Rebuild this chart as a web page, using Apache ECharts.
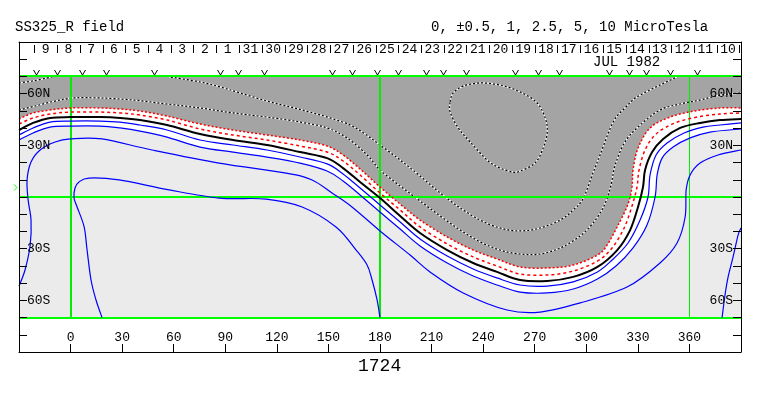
<!DOCTYPE html>
<html><head><meta charset="utf-8">
<script src="https://cdn.jsdelivr.net/npm/echarts@6/dist/echarts.min.js"></script>
<style>html,body{margin:0;padding:0;background:#fff}#c{width:763px;height:396px}</style>
</head><body><div id="c"></div><script>
// ---------- data (lon, lat) ----------
const titleLeft = 'SS325_R field';
const titleRight = '0, \u00b10.5, 1, 2.5, 5, 10 MicroTesla';
const rotationLabel = '1724';
const monthLabel = 'JUL 1982';
const latLabels = {'60':'60N','30':'30N','-30':'30S','-60':'60S'};
const earthLat = 6;
const greenMeridians = [0, 180, 360];
const greenParallels = [70, 0, -70];
const dayTickLon = [-21.1,-7.8,5.4,18.6,31.8,45.1,58.3,71.5,84.8,98.0,111.2,124.5,137.7,150.9,164.2,177.4,190.6,203.8,217.1,230.3,243.5,256.8,270.0,283.2,296.5,309.7,322.9,336.2,349.4,362.6,375.9,389.1];
const dayLabels = ['9','8','7','6','5','4','3','2','1','31','30','29','28','27','26','25','24','23','22','21','20','19','18','17','16','15','14','13','12','11','10'];
const obsLon = [-20.1,-7.9,6.7,20.7,48.6,87.0,97.4,112.6,152.1,163.7,178.3,190.5,206.8,216.8,230.1,258.6,272.0,284.2,313.3,324.9,334.8,348.8,364.4];

const neutralLine = [[-30,38.9],[-21.8,43.0],[-11.9,45.9],[0,46.4],[17.2,46.4],[28.8,45.9],[40.4,44.7],[56.1,41.8],[75.3,36.6],[94.5,33.1],[114.3,30.2],[133.5,26.1],[149.2,22.6],[158.5,16.8],[168.4,8.7],[180,-0.6],[191.7,-11.0],[203.3,-20.9],[219.1,-30.8],[234.2,-38.3],[248.1,-43.5],[261.5,-48.2],[277.3,-48.8],[292.4,-46.4],[306.5,-40.6],[318,-30.8],[325.5,-19.2],[330.1,-5.8],[333.0,5.8],[334.2,15.7],[338.3,26.1],[344.7,33.7],[354.6,40.1],[366.2,43.0],[377.8,44.7],[390,45.3]];
const negHalf = [[-30,42.4],[-21.8,45.9],[-11.9,48.2],[0,49.3],[17.2,49.3],[28.8,48.8],[40.4,47.6],[56.1,44.7],[75.3,39.5],[94.5,36.0],[114.3,33.1],[133.5,29.6],[149.2,26.1],[158.5,20.9],[168.4,12.8],[180,2.3],[191.7,-7.5],[203.3,-17.4],[219.1,-27.3],[234.2,-34.8],[248.1,-40.1],[261.5,-44.7],[277.3,-45.3],[292.4,-43.0],[306.5,-37.2],[315,-29.6],[322,-18.0],[326.6,-5.2],[329.5,5.8],[330.7,15.7],[334.2,27.3],[340.6,36.6],[351.6,43.0],[364.4,46.4],[377.8,48.2],[390,48.8]];
const negOne = [[-30,45.3],[-21.8,48.8],[-11.9,50.5],[0,51.7],[17.2,51.7],[28.8,51.1],[40.4,49.9],[56.1,47.0],[75.3,42.4],[94.5,38.9],[114.3,36.0],[133.5,33.1],[149.2,29.6],[158.5,24.4],[168.4,16.3],[180,5.8],[191.7,-4.1],[203.3,-13.4],[219.1,-23.2],[234.2,-30.8],[248.1,-36.0],[261.5,-40.6],[277.3,-41.2],[292.4,-39.5],[306.5,-33.7],[312.1,-27.9],[318.5,-16.3],[324.3,-4.1],[326.6,5.8],[327.2,15.7],[330.1,28.4],[337.1,40.1],[348.8,46.4],[362.7,49.9],[377.8,51.7],[390,51.7]];
const posHalf = [[-30,36.0],[-21.8,40.1],[-11.9,43.5],[0,44.1],[17.2,44.1],[28.8,43.5],[40.4,41.8],[56.1,38.9],[75.3,33.1],[94.5,30.2],[114.3,27.3],[133.5,23.2],[149.2,19.2],[158.5,13.4],[168.4,5.2],[180,-4.6],[191.7,-14.5],[203.3,-24.4],[219.1,-34.3],[234.2,-41.8],[248.1,-47.0],[261.5,-51.1],[277.3,-51.7],[292.4,-49.3],[306.5,-43.5],[315,-36.6],[324.3,-26.7],[331.3,-13.4],[335.9,0],[337.1,12.8],[340.6,24.4],[347,31.4],[356.9,37.2],[367.9,40.6],[377.8,41.8],[390,43.0]];
const posOne = [[-30,33.1],[-21.8,37.2],[-11.9,40.6],[0,41.2],[17.2,41.2],[28.8,40.1],[40.4,38.3],[56.1,34.8],[75.3,29.0],[94.5,26.1],[114.3,23.2],[133.5,19.7],[149.2,15.1],[158.5,9.3],[168.4,1.2],[180,-8.7],[191.7,-18.6],[203.3,-28.4],[219.1,-38.3],[234.2,-45.9],[248.1,-51.1],[261.5,-55.2],[277.3,-55.7],[292.4,-53.4],[306.5,-47.6],[317.3,-40.1],[327.2,-29.6],[335.3,-16.3],[340,0],[341.2,12.8],[344.1,22.6],[350.5,29.0],[360.4,34.3],[372,37.7],[390,39.5]];
const posTwoHalf = [[-30,-51.7],[-26.5,-42.4],[-23.5,-27.9],[-23,-13.4],[-24.7,-1.7],[-25.3,9.9],[-23,20.3],[-17.7,27.3],[-9,31.9],[0,33.7],[18.3,33.7],[47.4,27.3],[86.4,19.7],[125.4,13.9],[140.5,9.9],[152.1,2.3],[163.7,-5.8],[180,-19.7],[197.5,-33.7],[209.1,-43.5],[228.4,-55.7],[253.9,-65.6],[273.1,-66.8],[296.5,-61.5],[323.7,-52.3],[342.9,-38.3],[352.8,-26.7],[357.5,-11.6],[358.1,4.1],[360.4,12.8],[366.2,19.7],[376.6,24.4],[390,27.3]];
const posFive = [[18.3,-70],[14.8,-59.8],[11.9,-48.2],[9.6,-30.8],[7.9,-17.4],[3.8,-5.8],[2.0,-0.6],[2.6,5.2],[4.9,8.7],[10.8,11.0],[28.2,9.9],[57.3,4.1],[86.4,-0.6],[113.8,-1.2],[134.7,-5.8],[154.4,-17.4],[166.1,-30.8],[172.5,-39.5],[175.4,-48.2],[178.3,-59.8],[180,-70]];
const posFiveEast = [[390,-18.0],[388.3,-22.1],[385.4,-34.8],[382.5,-46.4],[380.7,-56.9],[379,-70]];
const negTwoHalf = [[-30,50.5],[-20.7,52.8],[-9,55.7],[1.5,57.5],[17.2,57.5],[36.4,56.3],[56.1,54.0],[75.3,51.7],[94.5,48.8],[114.3,46.4],[133.5,43.5],[149.2,40.1],[160.8,34.3],[172.5,24.4],[180,15.7],[191.7,6.4],[203.3,-2.3],[215,-11.0],[226.7,-19.2],[238.3,-26.1],[249.8,-30.8],[261.5,-33.1],[273.1,-33.1],[284.8,-29.6],[296.5,-22.6],[305.3,-13.4],[311,-3.5],[314.4,7.0],[316.8,18.6],[322.5,31.9],[331.3,41.8],[342.9,50.5],[354.6,54.0],[366.2,56.3],[377.8,59.2],[390,60.4]];
const negFive = [[56.1,70],[75.3,66.8],[87.0,63.9],[98.6,60.4],[114.3,55.7],[127.7,52.3],[139.3,49.3],[151,45.9],[162.6,41.8],[171.3,36.6],[180,30.2],[191.7,21.5],[203.3,12.2],[215,2.3],[226.7,-6.4],[238.3,-13.4],[249.8,-18.0],[261.5,-19.7],[273.1,-18.0],[284.8,-13.4],[292.4,-7.5],[298.3,-0.6],[304.1,14.5],[308,24.4],[315.6,43.5],[322.5,51.7],[329.5,58.1],[342.9,65.0],[353.4,70]];
const negFiveWest = [[-30,66.2],[-21.8,67.4],[-13.7,69.1],[-10.2,70]];
const negTen = [[220.8,55.2],[222.6,60.4],[228.4,64.4],[238.3,66.2],[249.8,65.0],[261.5,61.0],[271.4,54.6],[276.1,45.9],[277.3,37.7],[274.9,28.4],[270.2,19.7],[261.5,15.1],[257.4,14.5],[249.8,16.8],[242.3,21.5],[232.5,31.9],[225.5,40.1],[220.8,49.3],[220.8,55.2]];

// ---------- helpers ----------
const FONT = '"Liberation Mono", "DejaVu Sans Mono", monospace';
function seg(p0,p1,p2,p3){const t=1/6;const f=v=>v.toFixed(2);
  return ' C'+f(p1[0]+(p2[0]-p0[0])*t)+' '+f(p1[1]+(p2[1]-p0[1])*t)+' '+f(p2[0]-(p3[0]-p1[0])*t)+' '+f(p2[1]-(p3[1]-p1[1])*t)+' '+f(p2[0])+' '+f(p2[1]);}
function smoothPath(p, closed){
  let d='M'+p[0][0].toFixed(2)+' '+p[0][1].toFixed(2);
  if(closed){const m=p.length-1;
    for(let i=0;i<m;i++){d+=seg(p[(i-1+m)%m],p[i],p[(i+1)%m],p[(i+2)%m]);}
    return d+' Z';}
  const n=p.length;
  for(let i=0;i<n-1;i++){d+=seg(p[Math.max(i-1,0)],p[i],p[i+1],p[Math.min(i+2,n-1)]);}
  return d;
}
function lineSeries(name, pts, styles, z, closed){
  return {type:'custom', name, coordinateSystem:'cartesian2d', z, silent:true, data:pts,
    renderItem:(params, api)=>{
      if(params.dataIndex!==0) return null;
      const d = smoothPath(pts.map(p=>api.coord(p)), closed);
      return {type:'group', children: styles.map(s=>({type:'path', shape:{pathData:d}, style:Object.assign({fill:'none'}, s)}))};
    }};
}
const BLUE=[{stroke:'#0000ff', lineWidth:1.2}];
const RED1=[{stroke:'#ff0000', lineWidth:1.5, lineDash:[3,3]}];
const RED2=[{stroke:'#ff0000', lineWidth:1.5, lineDash:[2,2]}];
const BLACK=[{stroke:'#000', lineWidth:2}];
const NEG=[{stroke:'#fff', lineWidth:1.2},{stroke:'#000', lineWidth:1.2, lineDash:[2,2]}];

const fills = {type:'custom', name:'fills', coordinateSystem:'cartesian2d', z:1, silent:true, data:[[-30,70]],
  renderItem:(params, api)=>{
    const tl=api.coord([-30,70]), br=api.coord([390,-70]), tr=api.coord([390,70]);
    const poly=(pts)=>smoothPath(pts.map(p=>api.coord(p)))+' L'+tr[0]+' '+tr[1]+' L'+tl[0]+' '+tl[1]+' Z';
    return {type:'group', children:[
      {type:'rect', shape:{x:tl[0], y:tl[1], width:br[0]-tl[0], height:br[1]-tl[1]}, style:{fill:'#ebebeb'}},
      {type:'path', shape:{pathData:poly(posOne)}, style:{fill:'#ffffff'}},
      {type:'path', shape:{pathData:poly(negOne)}, style:{fill:'#a4a4a4'}}
    ]};
  }};

const greenV = {type:'custom', name:'meridians', coordinateSystem:'cartesian2d', z:5, silent:true,
  data: greenMeridians.map(l=>[l,0]),
  renderItem:(params, api)=>{const a=api.coord([api.value(0),70]), b=api.coord([api.value(0),-70]);
    const w = params.dataIndex===2 ? 1 : 2;
    const x = w===1 ? Math.floor(a[0])+0.5 : Math.round(a[0]);
    return {type:'line', z2:1, shape:{x1:x,y1:a[1],x2:x,y2:b[1]}, style:{stroke:'#00ee00', lineWidth:w}};}};
const greenH = {type:'custom', name:'parallels', coordinateSystem:'cartesian2d', z:5, silent:true,
  data: greenParallels.map(l=>[-30,l]),
  renderItem:(params, api)=>{const a=api.coord([-30,api.value(1)]), b=api.coord([390,api.value(1)]);
    const y=Math.round(a[1]);
    return {type:'line', shape:{x1:a[0],y1:y,x2:b[0],y2:y}, style:{stroke:'#00ff00', lineWidth:2}};}};

const vMarks = {type:'custom', name:'obs', coordinateSystem:'cartesian2d', z:4, silent:true,
  data: obsLon.map(l=>[l,70]),
  renderItem:(params, api)=>{const c=api.coord([api.value(0),70]); const x=Math.round(c[0])+0.5, y=Math.round(c[1]);
    return {type:'polyline', shape:{points:[[x-3,y-6],[x,y-1],[x+3,y-6]]}, style:{stroke:'#000', lineWidth:1, fill:'none'}};}};
const dayTicks = {type:'custom', name:'dayTicks', coordinateSystem:'cartesian2d', z:4, silent:true,
  data: dayTickLon.map(l=>[l,90]),
  renderItem:(params, api)=>{const c=api.coord([api.value(0),90]); const x=Math.round(c[0])+0.5;
    return {type:'line', shape:{x1:x,y1:c[1]+3,x2:x,y2:c[1]+11}, style:{stroke:'#000', lineWidth:1}};}};
const dayText = {type:'custom', name:'days', coordinateSystem:'cartesian2d', z:4, silent:true,
  data: dayLabels.map((t,i)=>[(dayTickLon[i]+dayTickLon[i+1])/2, 90]),
  renderItem:(params, api)=>{const c=api.coord([api.value(0),90]);
    return {type:'text', x:c[0], y:c[1]+8, style:{text:dayLabels[params.dataIndex], font:'13px '+FONT, fill:'#000', align:'center', verticalAlign:'middle'}};}};
const earthMark = {type:'custom', name:'earth', coordinateSystem:'cartesian2d', z:4, silent:true,
  data: [[-30, earthLat]],
  renderItem:(params, api)=>{const c=api.coord([-30,api.value(1)]); const x=c[0]-2, y=Math.round(c[1])+0.5;
    return {type:'polyline', shape:{points:[[x-3,y-3],[x,y],[x-3,y+3]]}, style:{stroke:'#00ff00', lineWidth:1, fill:'none'}};}};

const axisCommon = {type:'value', splitLine:{show:false}, z:10,
  axisLine:{show:true, onZero:false, lineStyle:{color:'#000', width:1}}};
const yLabel = v => latLabels[String(v)] || '';

const option = {
  animation:false,
  backgroundColor:'#fff',
  grid:{left:19, right:22, top:42, bottom:44, show:false},
  xAxis:[
    Object.assign({}, axisCommon, {position:'bottom', min:-30, max:390, interval:30,
      axisTick:{show:true, inside:true, length:8, lineStyle:{color:'#000'}},
      axisLabel:{inside:true, margin:8, color:'#000', fontFamily:FONT, fontSize:13,
        formatter:v=>(v<0||v>360)?'':String(v)}}),
    Object.assign({}, axisCommon, {position:'top', min:-30, max:390, interval:30,
      axisTick:{show:false}, axisLabel:{show:false}})
  ],
  yAxis:[
    Object.assign({}, axisCommon, {position:'left', min:-90, max:90, interval:10,
      axisTick:{show:true, inside:true, length:8, lineStyle:{color:'#000'}},
      axisLabel:{inside:true, margin:8, color:'#000', fontFamily:FONT, fontSize:13, formatter:yLabel}}),
    Object.assign({}, axisCommon, {position:'right', min:-90, max:90, interval:10,
      axisTick:{show:true, inside:true, length:8, lineStyle:{color:'#000'}},
      axisLabel:{inside:true, margin:8, color:'#000', fontFamily:FONT, fontSize:13, formatter:yLabel}})
  ],
  graphic:[
    {type:'text', left:15, top:20, style:{text:titleLeft, font:'14px '+FONT, fill:'#000'}},
    {type:'text', left:431, top:20, style:{text:titleRight, font:'14px '+FONT, fill:'#000'}},
    {type:'text', left:593, top:55, style:{text:monthLabel, font:'14px '+FONT, fill:'#000'}},
    {type:'text', left:358, top:357, style:{text:rotationLabel, font:'18px '+FONT, fill:'#000'}}
  ],
  series:[
    fills,
    lineSeries('-2.5', negTwoHalf, NEG, 3),
    lineSeries('-5', negFive, NEG, 3),
    lineSeries('-5w', negFiveWest, NEG, 3),
    lineSeries('-10', negTen, NEG, 3, true),
    greenV, greenH,
    lineSeries('-1', negOne, RED2, 6),
    lineSeries('-0.5', negHalf, RED1, 6),
    lineSeries('+0.5', posHalf, BLUE, 6),
    lineSeries('+1', posOne, BLUE, 6),
    lineSeries('+2.5', posTwoHalf, BLUE, 6),
    lineSeries('+5', posFive, BLUE, 6),
    lineSeries('+5e', posFiveEast, BLUE, 6),
    lineSeries('0', neutralLine, BLACK, 6),
    vMarks, dayTicks, dayText, earthMark
  ]
};
const chart = echarts.init(document.getElementById('c'), null, {renderer:'canvas'});
chart.setOption(option);
</script></body></html>
